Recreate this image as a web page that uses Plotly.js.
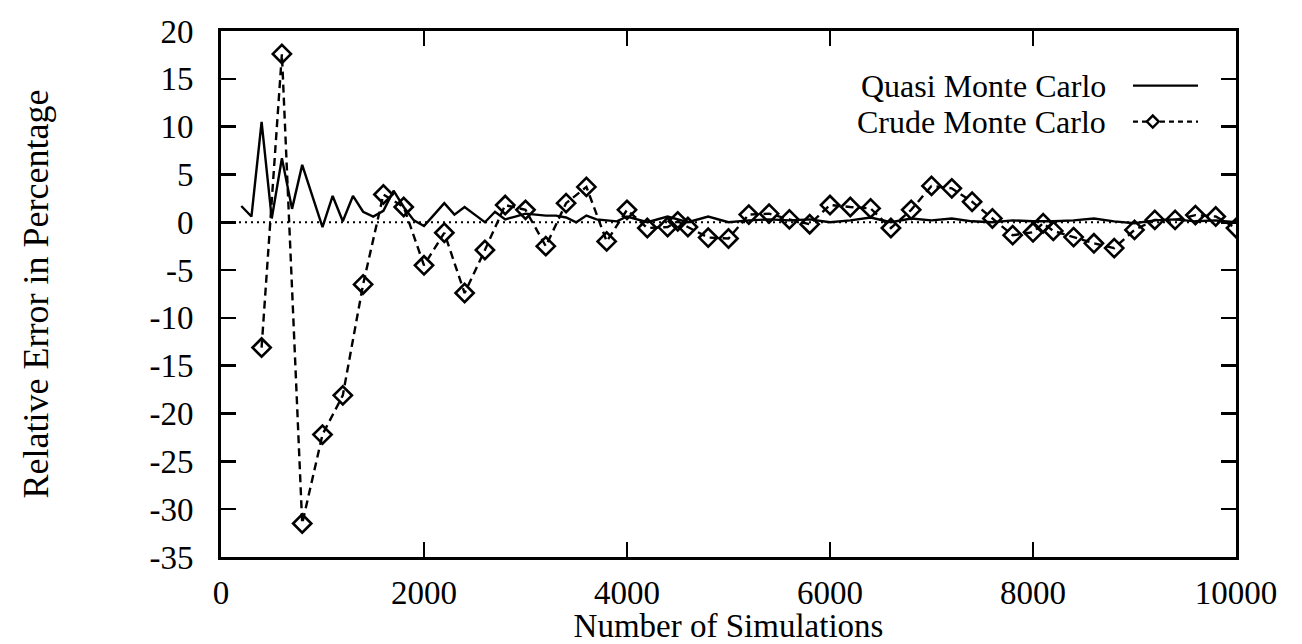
<!DOCTYPE html>
<html>
<head>
<meta charset="utf-8">
<script src="https://cdn.plot.ly/plotly-3.0.1.min.js"></script>
<style>
  html, body { margin: 0; padding: 0; background: #fff; }
  #chart { width: 1302px; height: 644px; }
</style>
</head>
<body>
<div id="chart"></div>
<script>
// Quasi Monte Carlo relative error (%)
const quasiN = [200,300,400,500,600,700,800,900,1000,1100,1200,1300,1400,1500,1600,1700,1800,1900,2000,
  2100,2200,2300,2400,2500,2600,2700,2800,2900,3000,3100,3200,3300,3400,3500,3600,3700,3800,3900,4000,
  4200,4400,4600,4800,5000,5200,5400,5600,5800,6000,6200,6400,6600,6800,7000,7200,7400,7600,7800,8000,
  8200,8400,8600,8800,9000,9200,9400,9600,9800,10000];
const quasiErr = [1.7,0.6,10.5,0.4,6.7,1.4,6.0,2.8,-0.5,2.75,0.1,2.75,1.1,0.6,1.2,3.3,1.6,0.2,-0.4,
  0.8,2.0,0.8,1.6,0.8,0.0,1.1,0.3,0.6,0.9,0.8,0.7,0.7,0.5,0.0,0.7,0.3,0.2,0.1,0.6,
  0.0,0.6,0.0,0.6,0.0,0.2,0.3,0.2,0.3,0.0,0.2,0.5,0.0,0.4,0.2,0.4,0.1,0.0,0.2,0.1,
  0.1,0.2,0.4,0.1,-0.1,0.2,0.3,0.1,0.2,0.0];

// Crude Monte Carlo relative error (%)
const crudeN = [400,600,800,1000,1200,1400,1600,1800,2000,2200,2400,2600,2800,3000,3200,3400,3600,3800,4000,
  4200,4400,4500,4600,4800,5000,5200,5400,5600,5800,6000,6200,6400,6600,6800,7000,7200,7400,7600,7800,
  8000,8100,8200,8400,8600,8800,9000,9200,9400,9600,9800,10000];
const crudeErr = [-13.1,17.6,-31.5,-22.2,-18.1,-6.5,2.9,1.6,-4.5,-1.1,-7.4,-2.9,1.8,1.3,-2.5,2.0,3.7,-2.0,1.3,
  -0.6,-0.5,0.1,-0.5,-1.6,-1.7,0.8,0.9,0.3,-0.2,1.8,1.6,1.45,-0.6,1.3,3.8,3.55,2.15,0.4,-1.35,
  -1.05,-0.1,-0.9,-1.55,-2.2,-2.7,-0.8,0.25,0.25,0.75,0.6,-0.6];

const seriesNames = ["Quasi Monte Carlo", "Crude Monte Carlo"];
const xTicks = [0,2000,4000,6000,8000,10000];
const yTicks = [-35,-30,-25,-20,-15,-10,-5,0,5,10,15,20];

const FONT = "Liberation Serif, Times New Roman, serif";

const traces = [
  {
    x: quasiN, y: quasiErr, name: seriesNames[0], type: "scatter", mode: "lines",
    line: { color: "#000", width: 2.4 }, showlegend: false
  },
  {
    x: crudeN, y: crudeErr, name: seriesNames[1], type: "scatter", mode: "lines+markers",
    line: { color: "#000", width: 2.4, dash: "8px,5px" },
    marker: { symbol: "diamond-open", size: 14, color: "#000", line: { color: "#000", width: 2.6 } },
    showlegend: false
  }
];

// legend geometry (paper coords)
const legX1 = 0.874, legS0 = 0.8985, legS1 = 0.9626, legY1 = 0.8963, legY2 = 0.8278, legD = 0.918;
const dX = 6 / 1015, dY = 6 / 525.5;

const layout = {
  width: 1302, height: 644,
  margin: { l: 221, r: 66, t: 31, b: 87 },
  paper_bgcolor: "#fff", plot_bgcolor: "#fff",
  font: { family: FONT, size: 30, color: "#000" },
  showlegend: false,
  xaxis: {
    range: [0, 10000], tickvals: xTicks, ticktext: xTicks.map(String),
    ticks: "inside", ticklen: 15, tickwidth: 2.5, tickcolor: "#000",
    showline: true, linecolor: "#000", linewidth: 3, mirror: "ticks",
    showgrid: false, zeroline: false,
    tickfont: { family: FONT, size: 33, color: "#000" },
    ticklabelstandoff: 4,
    title: { text: "Number of Simulations", font: { family: FONT, size: 33, color: "#000" }, standoff: 12 }
  },
  yaxis: {
    range: [-35, 20], tickvals: yTicks, ticktext: yTicks.map(String),
    ticks: "inside", ticklen: 15, tickwidth: 2.5, tickcolor: "#000",
    showline: true, linecolor: "#000", linewidth: 3, mirror: "ticks",
    showgrid: false, zeroline: false,
    tickfont: { family: FONT, size: 33, color: "#000" },
    ticklabelstandoff: 18,
    title: { text: "Relative Error in Percentage", font: { family: FONT, size: 36, color: "#000" }, standoff: 90 }
  },
  shapes: [
    { type: "line", xref: "paper", yref: "y", x0: 0, x1: 1, y0: 0, y1: 0,
      line: { color: "#000", width: 1.8, dash: "2px,4px" }, layer: "below" },
    { type: "line", xref: "paper", yref: "paper", x0: legS0, x1: legS1, y0: legY1, y1: legY1,
      line: { color: "#000", width: 2.2 } },
    { type: "line", xref: "paper", yref: "paper", x0: legS0, x1: legS1, y0: legY2, y1: legY2,
      line: { color: "#000", width: 2.2, dash: "5px,4px" } },
    { type: "path", xref: "paper", yref: "paper",
      path: `M ${legD - dX},${legY2} L ${legD},${legY2 + dY} L ${legD + dX},${legY2} L ${legD},${legY2 - dY} Z`,
      fillcolor: "#fff", line: { color: "#000", width: 2.4 } }
  ],
  annotations: [
    { xref: "paper", yref: "paper", x: legX1, y: legY1, xanchor: "right", yanchor: "middle",
      text: seriesNames[0], showarrow: false, font: { family: FONT, size: 32, color: "#000" } },
    { xref: "paper", yref: "paper", x: legX1, y: legY2, xanchor: "right", yanchor: "middle",
      text: seriesNames[1], showarrow: false, font: { family: FONT, size: 32, color: "#000" } }
  ]
};

Plotly.newPlot("chart", traces, layout, { displayModeBar: false, staticPlot: true });
</script>
</body>
</html>
